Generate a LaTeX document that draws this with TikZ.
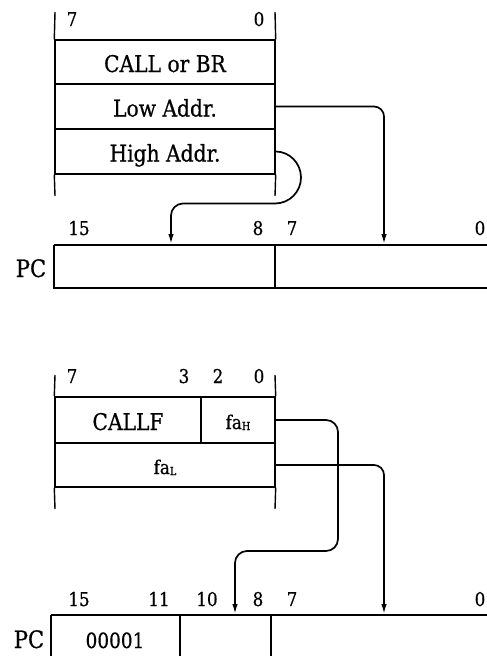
\documentclass[tikz,border=0pt]{standalone}
\usepackage{fontspec}
\setmainfont{DejaVu Serif}[FakeStretch=0.88,FakeBold=0.6]
\usetikzlibrary{arrows.meta}
\begin{document}
\begin{tikzpicture}[x=1pt,y=-1pt,
  reg/.style={draw, line width=1.4pt, inner sep=0pt, text height=20pt, text depth=0pt, font=\fontsize{23}{23}\selectfont},
  fareg/.style={reg, text height=18pt, font=\fontsize{19}{19}\selectfont},
  bitlbl/.style={anchor=base, inner sep=0pt, font=\fontsize{19}{19}\selectfont},
  pclbl/.style={anchor=base, inner sep=0pt, font=\fontsize{24}{24}\selectfont},
  frame/.style={line width=1.4pt},
  pcline/.style={line width=1.6pt},
  pctop/.style={line width=2.4pt},
  conn/.style={line width=1.7pt, -{Latex[length=10pt,width=5.5pt]}},
]
\useasboundingbox (0,0) rectangle (487,656);

% ---------- top instruction ----------
\node[reg, minimum width=220pt, minimum height=44pt] (callbr) at (165,62) {CALL or BR};
\node[reg, minimum width=220pt, minimum height=45pt] (lowaddr) at (165,106.5) {Low Addr.};
\node[reg, minimum width=220pt, minimum height=45pt] (highaddr) at (165,151.5) {High Addr.};
\draw[frame] (55,12) -- (callbr.north west);
\draw[frame] (275,12) -- (callbr.north east);
\draw[frame] (highaddr.south west) -- (55,196);
\draw[frame] (highaddr.south east) -- (275,196);
\node[bitlbl] (t7) at (72,26) {7};
\node[bitlbl] (t0) at (259,26) {0};

% ---------- top PC ----------
\draw[pcline] (487,288) -- (54,288) -- (54,245);
\draw[pcline] (275,245) -- (275,288);
\draw[pctop] (54,245) -- (487,245);
\coordinate (pcA) at (171,244);
\coordinate (pcB) at (384,244);
\node[bitlbl] (p15) at (79,235) {15};
\node[bitlbl] (p8) at (258,235) {8};
\node[bitlbl] (p7) at (292,235) {7};
\node[bitlbl] (p0) at (480,235) {0};
\node[pclbl] (pc1) at (31,277) {PC};

\draw[conn, rounded corners=10pt] (lowaddr.east) -- (384,106.5) -- (pcB);
\draw[conn] (highaddr.east) .. controls (289.4,151.5) and (301,163.1) .. (301,177.5)
  .. controls (301,191.9) and (289.4,203.5) .. (275,203.5) -- (183,203.5)
  .. controls (176.4,203.5) and (171,208.9) .. (171,215.5) -- (pcA);

% ---------- bottom instruction ----------
\node[reg, minimum width=146pt, minimum height=46pt] (callf) at (128,420) {CALLF};
\node[fareg, minimum width=74pt, minimum height=46pt] (fah) at (238,420) {fa{\fontsize{11}{11}\selectfont\raisebox{-1pt}{H}}};
\node[fareg, minimum width=220pt, minimum height=44pt] (fal) at (165,465) {fa{\fontsize{11}{11}\selectfont\raisebox{-1pt}{L}}};
\draw[frame] (55,375) -- (callf.north west);
\draw[frame] (275,375) -- (fah.north east);
\draw[frame] (fal.south west) -- (55,509);
\draw[frame] (fal.south east) -- (275,509);
\node[bitlbl] (b7) at (72,383) {7};
\node[bitlbl] (b3) at (184,383) {3};
\node[bitlbl] (b2) at (218,383) {2};
\node[bitlbl] (b0) at (259,383) {0};

% ---------- bottom PC ----------
\draw[pcline] (51,656) -- (51,615);
\draw[pcline] (180,615) -- (180,656);
\draw[pcline] (271,615) -- (271,656);
\draw[pctop] (51,615) -- (487,615);
\coordinate (pcC) at (235,614);
\coordinate (pcD) at (384,614);
\node[bitlbl] (q15) at (79,606) {15};
\node[bitlbl] (q11) at (159,606) {11};
\node[bitlbl] (q10) at (207,606) {10};
\node[bitlbl] (q8) at (258,606) {8};
\node[bitlbl] (q7) at (292,606) {7};
\node[bitlbl] (q0) at (480,606) {0};
\node[pclbl] (pc2) at (29,648) {PC};
\node[anchor=base, inner sep=0pt, font=\fontsize{21}{21}\selectfont] (fixed) at (115,648) {00001};

\draw[conn, rounded corners=12pt] (fah.east) -- (338,420) -- (338,551) -- (235,551) -- (pcC);
\draw[conn, rounded corners=10pt] (fal.east) -- (384,465) -- (pcD);
\end{tikzpicture}
\end{document}
